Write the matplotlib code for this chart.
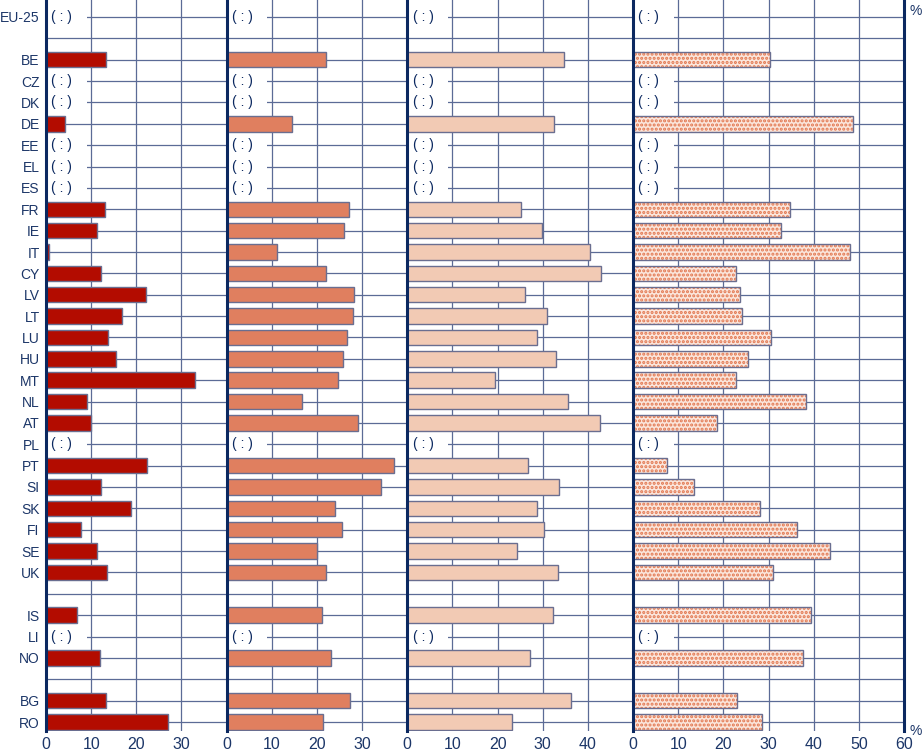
import numpy as np
import matplotlib
matplotlib.use('Agg')
import matplotlib.pyplot as plt

plt.rcParams['font.family'] = ['Liberation Sans', 'DejaVu Sans']
plt.rcParams['hatch.linewidth'] = 1.5

# row labels, '' marks an empty spacer row
countries = ['EU-25', '', 'BE', 'CZ', 'DK', 'DE', 'EE', 'EL', 'ES', 'FR', 'IE', 'IT',
             'CY', 'LV', 'LT', 'LU', 'HU', 'MT', 'NL', 'AT', 'PL', 'PT', 'SI', 'SK',
             'FI', 'SE', 'UK', '', 'IS', 'LI', 'NO', '', 'BG', 'RO']

nan = np.nan
# nan = not available (:)
series1 = [nan, nan, 13.2, nan, nan, 4.2, nan, nan, nan, 13.1, 11.4, 0.7,
           12.1, 22.2, 16.8, 13.8, 15.4, 33.0, 9.1, 9.9, nan, 22.4, 12.1, 18.8,
           7.8, 11.4, 13.5, nan, 6.9, nan, 12.0, nan, 13.3, 27.0]
series2 = [nan, nan, 21.9, nan, nan, 14.4, nan, nan, nan, 27.0, 25.9, 11.1,
           22.1, 28.1, 28.0, 26.6, 25.8, 24.6, 16.8, 29.1, nan, 37.1, 34.2, 24.1,
           25.6, 20.1, 21.9, nan, 21.2, nan, 23.1, nan, 27.4, 21.3]
series3 = [nan, nan, 34.6, nan, nan, 32.4, nan, nan, nan, 25.1, 29.8, 40.4,
           42.8, 26.0, 30.9, 28.7, 32.9, 19.4, 35.7, 42.6, nan, 26.7, 33.5, 28.7,
           30.2, 24.2, 33.3, nan, 32.2, nan, 27.2, nan, 36.2, 23.3]
series4 = [nan, nan, 30.4, nan, nan, 48.6, nan, nan, nan, 34.8, 32.8, 48.0,
           22.7, 23.6, 24.2, 30.6, 25.5, 22.9, 38.2, 18.5, nan, 7.5, 13.6, 28.2,
           36.2, 43.7, 30.9, nan, 39.5, nan, 37.6, nan, 23.0, 28.6]

xmax = [40, 40, 50, 60]
xticks = [[0, 10, 20, 30], [0, 10, 20, 30], [0, 10, 20, 30, 40], [0, 10, 20, 30, 40, 50, 60]]

navy = '#1C3668'
grid_c = '#5B6B96'
axis_c = '#0B2860'
edge_c = '#6A6E90'
fills = ['#B30C00', '#E07F5F', '#F2CAB4', '#FBE6DC']
dots = '#E2764E'

W, H = 924, 754
fig = plt.figure(figsize=(W / 100, H / 100), dpi=100)

x0 = 46
pxu = (904 - 46) / sum(xmax)
bottom_px = 731
ypos = np.arange(len(countries))
row_px = (722 - 17) / 33
ytop = -17 / row_px
ybot = 33 + (bottom_px - 722) / row_px

all_series = [series1, series2, series3, series4]
left = x0
for i, (vals, xm) in enumerate(zip(all_series, xmax)):
    w = xm * pxu
    ax = fig.add_axes([left / W, 1 - bottom_px / H, w / W, bottom_px / H])
    left += w
    ax.set_xlim(0, xm)
    ax.set_ylim(ybot, ytop)
    for s in ax.spines.values():
        s.set_visible(False)
    ax.set_axisbelow(True)
    ax.set_yticks(ypos)
    ax.set_xticks(xticks[i])
    ax.grid(True, color=grid_c, linewidth=0.9)
    ax.tick_params(length=0, colors=navy, labelsize=11.5, pad=4)
    if i == 0:
        ax.set_yticklabels(countries, fontsize=10)
        ax.tick_params(axis='y', pad=4.5)
    else:
        ax.set_yticklabels([])

    vals = np.array(vals, dtype=float)
    ok = ~np.isnan(vals)
    missing = [p for p, c in enumerate(countries) if c and np.isnan(vals[p])]

    if i < 3:
        ax.barh(ypos[ok], vals[ok], height=0.72, color=fills[i],
                edgecolor=edge_c, linewidth=1.0, zorder=2)
    else:
        ax.barh(ypos[ok], vals[ok], height=0.72, color=fills[i],
                edgecolor=dots, hatch='....', linewidth=0, zorder=2)
        ax.barh(ypos[ok], vals[ok], height=0.72, color='none',
                edgecolor=edge_c, linewidth=1.0, zorder=3)

    # not available markers
    ax.barh(missing, [9.0] * len(missing), height=0.5, color='white', linewidth=0, zorder=2)
    for p in missing:
        ax.text(3.5, p, '( : )', color=axis_c, fontsize=10,
                ha='center', va='center', zorder=3)

    ax.axvline(0, color=axis_c, linewidth=2.2, zorder=5, clip_on=False)
    if i == 3:
        ax.axvline(xm, color=axis_c, linewidth=2.2, zorder=5, clip_on=False)

fig.text(916 / W, 1 - 11 / H, '%', color=navy, fontsize=10, ha='center', va='center')
fig.text(916 / W, 1 - 731 / H, '%', color=navy, fontsize=10, ha='center', va='center')

fig.savefig('out.png', dpi=100)
